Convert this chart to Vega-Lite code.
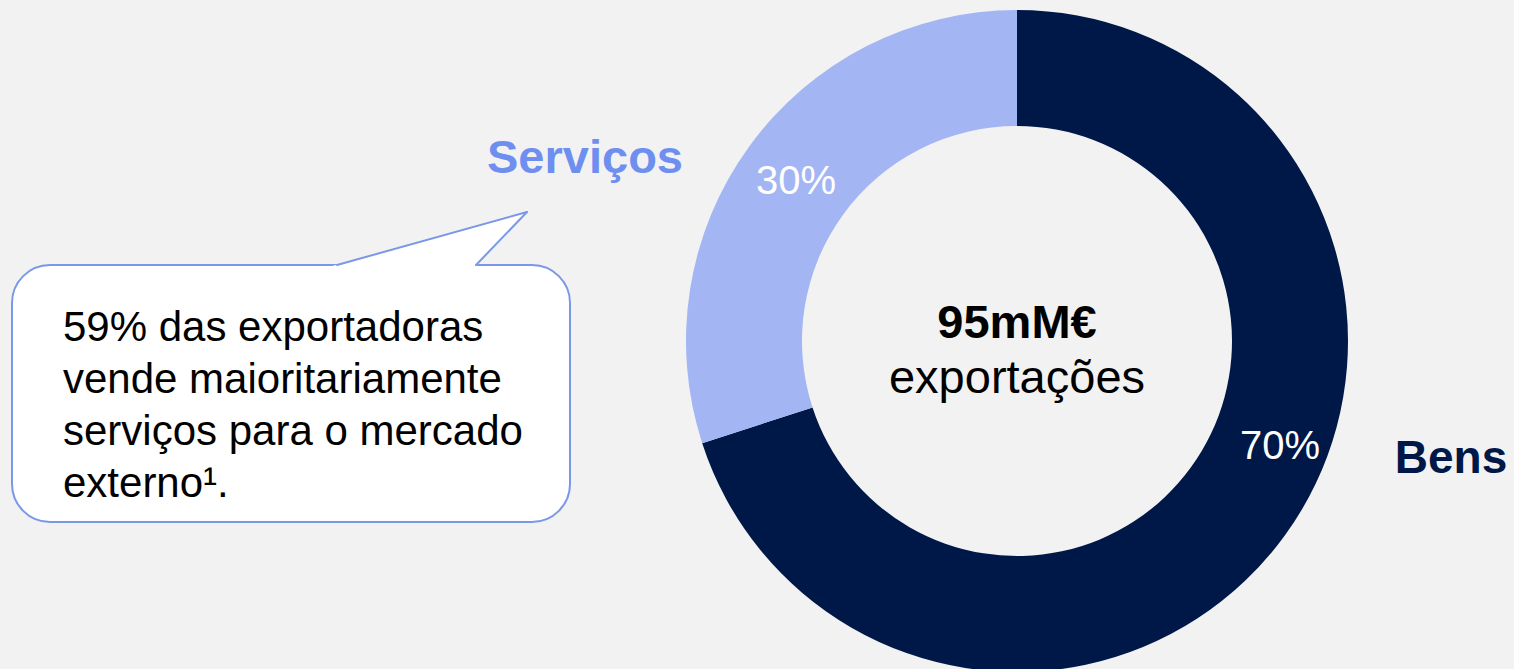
{
  "$schema": "https://vega.github.io/schema/vega-lite/v6.json",
  "width": 1514,
  "height": 669,
  "padding": 0,
  "autosize": {"type": "none"},
  "background": "#f2f2f2",
  "config": {"view": {"stroke": null}, "font": "Liberation Sans", "text": {"font": "Liberation Sans"}},
  "data": {"values": [
    {"categoria": "Bens", "valor": 70, "rotulo": "70%"},
    {"categoria": "Serviços", "valor": 30, "rotulo": "30%"}
  ]},
  "layer": [
    {
      "mark": {"type": "arc", "radius": 331, "radius2": 215},
      "encoding": {
        "theta": {"field": "valor", "type": "quantitative", "stack": true},
        "color": {"field": "categoria", "type": "nominal", "scale": {"domain": ["Bens", "Serviços"], "range": ["#001847", "#a3b6f3"]}, "legend": null},
        "x": {"datum": 1017, "type": "quantitative", "scale": {"domain": [0, 1514], "nice": false, "zero": false}, "axis": null},
        "y": {"datum": 341, "type": "quantitative", "scale": {"domain": [0, 669], "nice": false, "zero": false, "reverse": true}, "axis": null}
      }
    },
    {
      "transform": [{"filter": "datum.categoria === 'Serviços'"}],
      "mark": {"type": "text", "fontSize": 40, "color": "white", "align": "center", "baseline": "alphabetic"},
      "encoding": {
        "text": {"field": "rotulo"},
        "x": {"datum": 796, "type": "quantitative"},
        "y": {"datum": 194, "type": "quantitative"}
      }
    },
    {
      "transform": [{"filter": "datum.categoria === 'Bens'"}],
      "mark": {"type": "text", "fontSize": 40, "color": "white", "align": "center", "baseline": "alphabetic"},
      "encoding": {
        "text": {"field": "rotulo"},
        "x": {"datum": 1280, "type": "quantitative"},
        "y": {"datum": 459, "type": "quantitative"}
      }
    },
    {
      "transform": [{"filter": "datum.categoria === 'Serviços'"}],
      "mark": {"type": "text", "fontSize": 47, "fontWeight": "bold", "color": "#6f8ff0", "align": "center", "baseline": "alphabetic"},
      "encoding": {
        "text": {"field": "categoria"},
        "x": {"datum": 585, "type": "quantitative"},
        "y": {"datum": 173, "type": "quantitative"}
      }
    },
    {
      "transform": [{"filter": "datum.categoria === 'Bens'"}],
      "mark": {"type": "text", "fontSize": 46, "fontWeight": "bold", "color": "#001847", "align": "center", "baseline": "alphabetic"},
      "encoding": {
        "text": {"field": "categoria"},
        "x": {"datum": 1451, "type": "quantitative"},
        "y": {"datum": 473, "type": "quantitative"}
      }
    },
    {
      "data": {"values": [{"texto": "95mM€"}]},
      "mark": {"type": "text", "fontSize": 47, "fontWeight": "bold", "color": "black", "align": "center", "baseline": "alphabetic"},
      "encoding": {
        "text": {"field": "texto"},
        "x": {"datum": 1017, "type": "quantitative"},
        "y": {"datum": 338, "type": "quantitative"}
      }
    },
    {
      "data": {"values": [{"texto": "exportações"}]},
      "mark": {"type": "text", "fontSize": 47, "color": "black", "align": "center", "baseline": "alphabetic"},
      "encoding": {
        "text": {"field": "texto"},
        "x": {"datum": 1017, "type": "quantitative"},
        "y": {"datum": 393, "type": "quantitative"}
      }
    },
    {
      "data": {"values": [{"caixa": "nota"}]},
      "mark": {"type": "rect", "fill": "white", "stroke": "#7b98e8", "strokeWidth": 2, "cornerRadius": 38},
      "encoding": {
        "x": {"datum": 12, "type": "quantitative"},
        "x2": {"datum": 570},
        "y": {"datum": 265, "type": "quantitative"},
        "y2": {"datum": 522}
      }
    },
    {
      "data": {"values": [{"caixa": "ponta"}]},
      "mark": {"type": "arc", "radius": 215, "radius2": 0, "fill": "white"},
      "encoding": {
        "theta": {"datum": 62.2, "type": "quantitative"},
        "theta2": {"datum": 70.7},
        "x": {"datum": 527, "type": "quantitative"},
        "y": {"datum": 212, "type": "quantitative"}
      }
    },
    {
      "data": {"values": [{"caixa": "lado1"}]},
      "mark": {"type": "rule", "stroke": "#7b98e8", "strokeWidth": 2, "strokeCap": "round"},
      "encoding": {
        "x": {"datum": 337, "type": "quantitative"},
        "x2": {"datum": 527},
        "y": {"datum": 265, "type": "quantitative"},
        "y2": {"datum": 212}
      }
    },
    {
      "data": {"values": [{"caixa": "lado2"}]},
      "mark": {"type": "rule", "stroke": "#7b98e8", "strokeWidth": 2, "strokeCap": "round"},
      "encoding": {
        "x": {"datum": 527, "type": "quantitative"},
        "x2": {"datum": 476},
        "y": {"datum": 212, "type": "quantitative"},
        "y2": {"datum": 265}
      }
    },
    {
      "data": {"values": [{"texto": "59% das exportadoras\nvende maioritariamente\nserviços para o mercado\nexterno¹."}]},
      "mark": {"type": "text", "fontSize": 42, "lineHeight": 52, "lineBreak": "\n", "color": "black", "align": "left", "baseline": "alphabetic"},
      "encoding": {
        "text": {"field": "texto"},
        "x": {"datum": 63, "type": "quantitative"},
        "y": {"datum": 341, "type": "quantitative"}
      }
    }
  ]
}
